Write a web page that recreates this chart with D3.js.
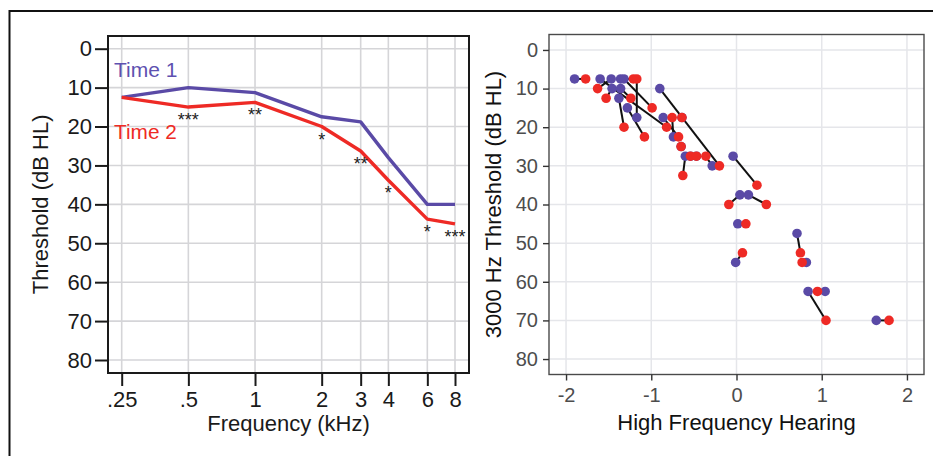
<!DOCTYPE html>
<html>
<head>
<meta charset="utf-8">
<script src="https://cdn.jsdelivr.net/npm/d3@7"></script>
<style>
  html, body { margin: 0; padding: 0; background: #fff; }
  svg { display: block; }
  text { font-family: "Liberation Sans", Arial, sans-serif; }
</style>
</head>
<body>
<svg id="chart" width="933" height="456"></svg>
<script>
// ---------- Left panel data ----------
const freqs = [0.25, 0.5, 1, 2, 3, 4, 6, 8];
const freqLabels = [".25", ".5", "1", "2", "3", "4", "6", "8"];
const time1 = [12.5, 10, 11.3, 17.5, 18.8, 28, 40, 40];
const time2 = [12.5, 15, 13.8, 20, 26.3, 33.8, 43.8, 45];
const sigLabels = ["", "***", "**", "*", "**", "*", "*", "***"];
const seriesNames = ["Time 1", "Time 2"];
const thresholdTicks = [0, 10, 20, 30, 40, 50, 60, 70, 80];

// ---------- Right panel data (one entry per participant) ----------
const hfhTime1 = [-1.90, -1.60, -1.47, -1.36, -1.32, -1.46, -1.36, -0.90, -1.38, -1.28, -1.17, -0.86, -0.74, -0.60, -0.285, -0.64, -0.65, -0.54, -0.47, -0.04, 0.04, 0.14, 0.015, 0.71, -0.01, 0.82, 0.84, 1.04, 1.64];
const thrTime1 = [7.5, 7.5, 7.5, 7.5, 7.5, 10, 10, 10, 12.5, 15, 17.5, 17.5, 22.5, 27.5, 30, 17.5, 25, 27.5, 27.5, 27.5, 37.5, 37.5, 45, 47.5, 55, 55, 62.5, 62.5, 70];
const hfhTime2 = [-1.77, -0.82, -1.63, -1.21, -0.99, -1.53, -1.24, -0.20, -1.32, -1.08, -1.17, -0.68, -0.755, -0.63, -0.36, -0.64, -0.65, -0.54, -0.47, 0.24, -0.09, 0.35, 0.11, 0.75, 0.07, 0.77, 1.05, 0.95, 1.79];
const thrTime2 = [7.5, 20, 10, 7.5, 15, 12.5, 12.5, 30, 20, 22.5, 7.5, 22.5, 17.5, 32.5, 27.5, 17.5, 25, 27.5, 27.5, 35, 40, 40, 45, 52.5, 52.5, 55, 70, 62.5, 70];
const hfhTicks = [-2, -1, 0, 1, 2];

const BLUE = "#5a4aa6";
const RED = "#ee2a25";

const svg = d3.select("#chart");

// outer frame
svg.append("path")
  .attr("d", "M9.5,456 V11 H933")
  .attr("fill", "none").attr("stroke", "#111").attr("stroke-width", 2);

// ================= LEFT PANEL =================
const L = { x0: 108, x1: 469, y0: 36, y1: 373 };
const xL = d3.scaleLog().base(2).domain([0.25, 8]).range([121.7, 455]);
const yL = d3.scaleLinear().domain([0, 80]).range([48.7, 360]);

const gL = svg.append("g");
// grid
gL.selectAll("line.vg").data(freqs).join("line")
  .attr("x1", d => xL(d)).attr("x2", d => xL(d))
  .attr("y1", L.y0).attr("y2", L.y1)
  .attr("stroke", "#d5d5d8").attr("stroke-width", 1.6);
gL.selectAll("line.hg").data(thresholdTicks).join("line")
  .attr("x1", L.x0).attr("x2", L.x1)
  .attr("y1", d => yL(d)).attr("y2", d => yL(d))
  .attr("stroke", "#d5d5d8").attr("stroke-width", 1.6);

// lines
const lineL = d3.line().x((d, i) => xL(freqs[i])).y(d => yL(d));
gL.append("path").datum(time1).attr("d", lineL)
  .attr("fill", "none").attr("stroke", BLUE).attr("stroke-width", 3.4).attr("stroke-linejoin", "round");
gL.append("path").datum(time2).attr("d", lineL)
  .attr("fill", "none").attr("stroke", RED).attr("stroke-width", 3.4).attr("stroke-linejoin", "round");

// significance asterisks
gL.selectAll("text.sig").data(sigLabels).join("text")
  .attr("x", (d, i) => xL(freqs[i]))
  .attr("y", (d, i) => yL(time2[i]) + 19)
  .attr("text-anchor", "middle")
  .attr("font-size", 18).attr("fill", "#222")
  .text(d => d);

// frame
gL.append("rect")
  .attr("x", L.x0).attr("y", L.y0)
  .attr("width", L.x1 - L.x0).attr("height", L.y1 - L.y0)
  .attr("fill", "none").attr("stroke", "#1a1a1a").attr("stroke-width", 2);

// axes
const axYL = gL.append("g").attr("transform", `translate(${L.x0},0)`)
  .call(d3.axisLeft(yL).tickValues(thresholdTicks).tickSize(13).tickPadding(3));
const axXL = gL.append("g").attr("transform", `translate(0,${L.y1})`)
  .call(d3.axisBottom(xL).tickValues(freqs).tickFormat((d, i) => freqLabels[i]).tickSize(13).tickPadding(5));
[axYL, axXL].forEach(ax => {
  ax.select(".domain").remove();
  ax.selectAll(".tick line").attr("stroke", "#1a1a1a").attr("stroke-width", 2);
  ax.selectAll(".tick text").attr("font-size", 22).attr("fill", "#1a1a1a")
    .attr("font-family", "'Liberation Sans', Arial, sans-serif");
});

// titles
gL.append("text").attr("x", (L.x0 + L.x1) / 2).attr("y", 431)
  .attr("text-anchor", "middle").attr("font-size", 22).attr("fill", "#1a1a1a")
  .text("Frequency (kHz)");
gL.append("text").attr("transform", `translate(48,${(yL(0) + yL(80)) / 2}) rotate(-90)`)
  .attr("text-anchor", "middle").attr("font-size", 22).attr("fill", "#1a1a1a")
  .text("Threshold (dB HL)");

// legend labels
gL.append("text").attr("x", 114).attr("y", 77).attr("font-size", 21).attr("fill", "#5e51b0").text(seriesNames[0]);
gL.append("text").attr("x", 114).attr("y", 139).attr("font-size", 20.8).attr("fill", RED).text(seriesNames[1]);

// ================= RIGHT PANEL =================
const R = { x0: 549, x1: 924, y0: 34.5, y1: 374.5 };
const xR = d3.scaleLinear().domain([-2.2, 2.2]).range([R.x0, R.x1]);
const yR = d3.scaleLinear().domain([-4, 84]).range([R.y0, R.y1]);

const gR = svg.append("g");
gR.selectAll("line.vg").data(hfhTicks).join("line")
  .attr("x1", d => xR(d)).attr("x2", d => xR(d))
  .attr("y1", R.y0).attr("y2", R.y1)
  .attr("stroke", "#e5e6ea").attr("stroke-width", 1.5);
gR.selectAll("line.hg").data(thresholdTicks).join("line")
  .attr("x1", R.x0).attr("x2", R.x1)
  .attr("y1", d => yR(d)).attr("y2", d => yR(d))
  .attr("stroke", "#e5e6ea").attr("stroke-width", 1.5);

const idx = d3.range(hfhTime1.length);
// connecting segments
gR.selectAll("line.seg").data(idx).join("line")
  .attr("x1", i => xR(hfhTime1[i])).attr("y1", i => yR(thrTime1[i]))
  .attr("x2", i => xR(hfhTime2[i])).attr("y2", i => yR(thrTime2[i]))
  .attr("stroke", "#111").attr("stroke-width", 2);
// points
gR.selectAll("circle.t1").data(idx).join("circle")
  .attr("cx", i => xR(hfhTime1[i])).attr("cy", i => yR(thrTime1[i]))
  .attr("r", 4.8).attr("fill", BLUE);
gR.selectAll("circle.t2").data(idx).join("circle")
  .attr("cx", i => xR(hfhTime2[i])).attr("cy", i => yR(thrTime2[i]))
  .attr("r", 4.8).attr("fill", RED);

gR.append("rect")
  .attr("x", R.x0).attr("y", R.y0)
  .attr("width", R.x1 - R.x0).attr("height", R.y1 - R.y0)
  .attr("fill", "none").attr("stroke", "#4a4a4a").attr("stroke-width", 1.4);

const axYR = gR.append("g").attr("transform", `translate(${R.x0},0)`)
  .call(d3.axisLeft(yR).tickValues(thresholdTicks).tickSize(6).tickPadding(5));
const axXR = gR.append("g").attr("transform", `translate(0,${R.y1})`)
  .call(d3.axisBottom(xR).tickValues(hfhTicks).tickFormat(d => String(d)).tickSize(6).tickPadding(7));
[axYR, axXR].forEach(ax => {
  ax.select(".domain").remove();
  ax.selectAll(".tick line").attr("stroke", "#333").attr("stroke-width", 1.4);
  ax.selectAll(".tick text").attr("font-size", 20).attr("fill", "#4d4d4d")
    .attr("font-family", "'Liberation Sans', Arial, sans-serif");
});

gR.append("text").attr("x", (R.x0 + R.x1) / 2).attr("y", 430)
  .attr("text-anchor", "middle").attr("font-size", 22).attr("fill", "#111")
  .text("High Frequency Hearing");
gR.append("text").attr("transform", `translate(501,${(yR(0) + yR(80)) / 2}) rotate(-90)`)
  .attr("text-anchor", "middle").attr("font-size", 22).attr("fill", "#111")
  .text("3000 Hz Threshold (dB HL)");
</script>
</body>
</html>
